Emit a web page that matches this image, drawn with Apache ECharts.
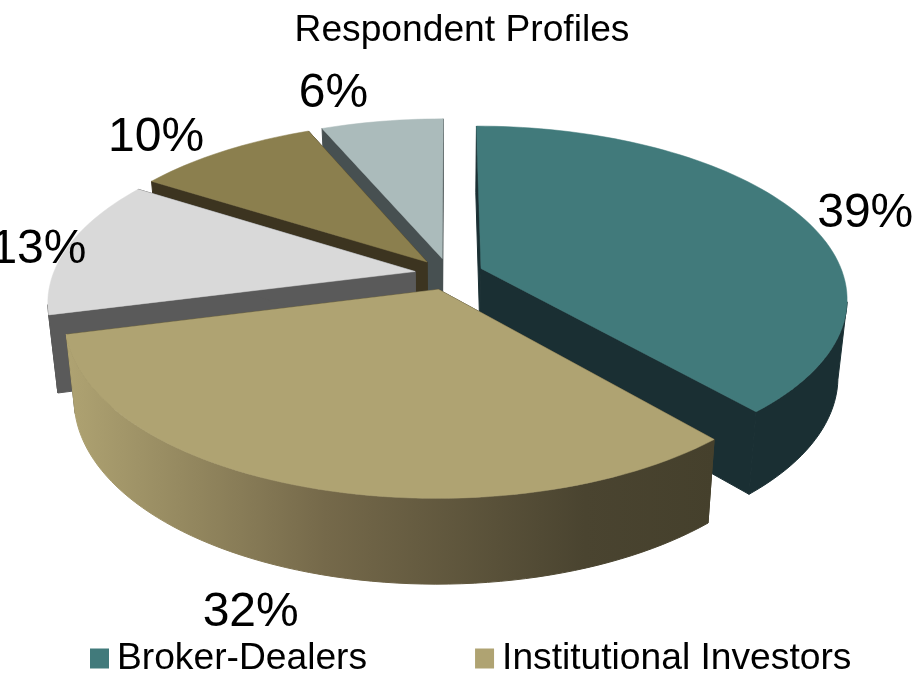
<!DOCTYPE html>
<html>
<head>
<meta charset="utf-8">
<title>Respondent Profiles</title>
<script src="https://cdn.jsdelivr.net/npm/echarts@6/dist/echarts.min.js"></script>
<style>
  html, body { margin: 0; padding: 0; background: #fff; }
  #chart { width: 914px; height: 678px; }
</style>
</head>
<body>
<div id="chart"></div>
<script>
// only two of the five categories are named in the legend of the picture
const categories = ['Broker-Dealers', 'Institutional Investors', 'Group 3', 'Group 4', 'Group 5']
// the labels show them rounded
const shares = [38.6, 32.4, 13, 9.6, 6.4]
const legendNames = ['Broker-Dealers', 'Institutional Investors']

const topColors = ['#417A7B', '#AFA372', '#D9D9D9', '#8B7F4E', '#ABBBBB']
const sideColors = ['#1A2F33', '#45402C', '#5A5A5A', '#3C3420', '#475051']
// back to front, so the nearer slices cover the farther ones
const drawOrder = [4, 3, 2, 0, 1]
// label offset from the rim point in the middle of each slice
const labelNudge = [[67.5, 0], [-55.5, 126], [-30, 4], [-68, -13], [-48.5, -28]]

const FONT = '"Liberation Sans", Arial, sans-serif'
const pie = { cx: 449, cy: 274, rx: 362, ry: 168, persp: 0.168, explode: 0.095, bottomScale: 0.977 }

const total = shares.reduce((a, b) => a + b, 0)

// position on the disc -> pixel on the top face
function project(u, v) {
  const s = 1 / (1 - pie.persp * v)
  return [pie.cx + pie.rx * u * s, pie.cy + pie.ry * v * s]
}

// same position, on the bottom face
function projectBottom(u, v) {
  const p = project(u, v)
  return [pie.cx + (p[0] - pie.cx) * pie.bottomScale, p[1] + 76 + 9 * v]
}

function sliceRange(index) {
  let before = 0
  for (let i = 0; i < index; i++) before += shares[i]
  return [(before / total) * Math.PI * 2, ((before + shares[index]) / total) * Math.PI * 2]
}

function renderSlice(params, api) {
  const index = api.value(0)
  const [a0, a1] = sliceRange(index)
  const mid = (a0 + a1) / 2
  const ox = Math.sin(mid) * pie.explode
  const oy = -Math.cos(mid) * pie.explode

  const rim = []
  const steps = Math.ceil((a1 - a0) / 0.03)
  for (let i = 0; i <= steps; i++) {
    const a = a0 + ((a1 - a0) * i) / steps
    rim.push([Math.sin(a) + ox, -Math.cos(a) + oy])
  }
  const first = rim[0]
  const last = rim[rim.length - 1]

  // stroke in the fill colour closes the seam between neighbouring faces
  const face = (points, fill, lineWidth) => ({
    type: 'polygon',
    shape: { points },
    style: { fill, stroke: fill, lineWidth }
  })

  const wall = (p) => [
    project(ox, oy),
    project(p[0], p[1]),
    projectBottom(p[0], p[1]),
    projectBottom(ox, oy)
  ]

  // outer wall: only the part facing the viewer. with perspective the widest
  // point of the rim sits a bit in front of the middle, about persp further on
  const front = rim.filter((p) => p[1] - oy >= pie.persp)
  const topFront = front.map((p) => project(p[0], p[1]))
  const bottomFront = front.map((p) => projectBottom(p[0], p[1]))
  const xs = topFront.concat(bottomFront).map((p) => p[0])

  // the front slice has a shaded outer wall, the others are flat
  const outerFill =
    index === 1
      ? new echarts.graphic.LinearGradient(
          Math.min(...xs),
          0,
          Math.max(...xs),
          0,
          [
            { offset: 0, color: '#AFA372' },
            { offset: 0.4, color: '#75694A' },
            { offset: 0.8, color: '#4A4430' },
            { offset: 1, color: '#45402C' }
          ],
          true
        )
      : sideColors[index]

  const top = [project(ox, oy)].concat(rim.map((p) => project(p[0], p[1])))
  const rimMid = project(Math.sin(mid) + ox, -Math.cos(mid) + oy)
  const nudge = labelNudge[index]

  const children = [face(wall(first), sideColors[index], 1), face(wall(last), sideColors[index], 1)]
  if (front.length > 1) {
    children.push(face(topFront.concat(bottomFront.reverse()), outerFill, 1))
  }
  children.push(face(top, topColors[index], 0.5), {
    type: 'text',
    style: {
      text: Math.round(shares[index]) + '%',
      x: rimMid[0] + nudge[0],
      y: rimMid[1] + nudge[1],
      align: 'center',
      verticalAlign: 'middle',
      fill: '#000',
      font: '48px ' + FONT
    },
    z2: 10
  })

  return { type: 'group', children }
}

const chart = echarts.init(document.getElementById('chart'))
chart.setOption({
  animation: false,
  title: {
    text: 'Respondent Profiles',
    left: 457,
    textAlign: 'center',
    top: 7,
    textStyle: { fontFamily: FONT, fontWeight: 'normal', fontSize: 37.2, color: '#000' }
  },
  legend: {
    data: legendNames,
    left: 85,
    top: 635,
    icon: 'rect',
    itemWidth: 19,
    itemHeight: 20,
    itemGap: 108,
    selectedMode: false,
    textStyle: { fontFamily: FONT, fontSize: 37.2, color: '#000', padding: [6, 0, 0, 3] }
  },
  series: drawOrder.map((index) => ({
    type: 'custom',
    name: categories[index],
    coordinateSystem: 'none',
    silent: true,
    itemStyle: { color: topColors[index] },
    data: [[index]],
    renderItem: renderSlice
  }))
})
</script>
</body>
</html>
